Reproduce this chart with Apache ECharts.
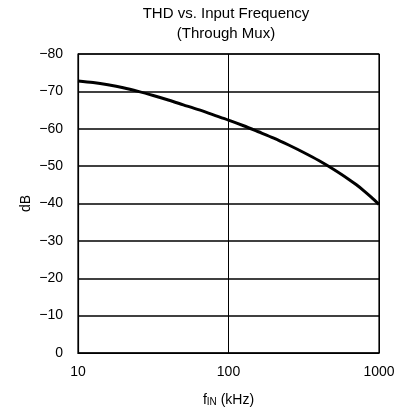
<!DOCTYPE html>
<html><head><meta charset="utf-8">
<script src="https://cdn.jsdelivr.net/npm/echarts@6/dist/echarts.min.js"></script>
<style>html,body{margin:0;padding:0;background:#fff}#c{width:400px;height:414px}</style>
</head><body><div id="c"></div>
<script>
const freqKHz = [10, 12.6, 15.8, 20, 25.1, 31.6, 39.8, 50.1, 63.1, 79.4, 100, 126, 158, 200, 251, 316, 398, 501, 631, 708, 794, 891, 1000];
const thdDB = [-72.8, -72.36, -71.75, -70.96, -70.0, -68.9, -67.7, -66.4, -65.1, -63.7, -62.3, -60.8, -59.2, -57.5, -55.65, -53.65, -51.5, -49.1, -46.45, -45.0, -43.4, -41.65, -39.75];
const titleLines = ['THD vs. Input Frequency', '(Through Mux)'];

const font = '"Liberation Sans", Arial, Helvetica, sans-serif';
const chart = echarts.init(document.getElementById('c'), null, {renderer: 'canvas'});
chart.setOption({
  animation: false,
  backgroundColor: '#fff',
  title: titleLines.map((t, i) => ({
    text: t,
    left: 221, top: -1 + i * 20, textAlign: 'center',
    textStyle: {fontFamily: font, fontSize: 15, fontWeight: 'normal', color: '#000', lineHeight: 20}
  })),
  grid: {left: 78, right: 21, top: 54, bottom: 61, show: true, borderColor: '#000', borderWidth: 1.2, backgroundColor: 'transparent'},
  xAxis: {
    type: 'log', logBase: 10, min: 10, max: 1000,
    axisLine: {show: true, lineStyle: {color: '#000', width: 1.2}},
    axisTick: {show: false},
    minorTick: {show: false},
    splitLine: {show: true, lineStyle: {color: '#000', width: 1}},
    axisLabel: {fontFamily: font, fontSize: 14, color: '#000', margin: 12, formatter: v => String(Math.round(v))},
    name: '{f|f}{s|IN}{f| (kHz)}',
    nameLocation: 'middle', nameGap: 40,
    nameTextStyle: {
      rich: {
        f: {fontFamily: font, fontSize: 14, color: '#000'},
        s: {fontFamily: font, fontSize: 10, color: '#000', verticalAlign: 'bottom'}
      }
    }
  },
  yAxis: {
    type: 'value', inverse: true, min: -80, max: 0, interval: 10,
    axisLine: {show: true, lineStyle: {color: '#000', width: 1.2}},
    axisTick: {show: false},
    splitLine: {show: true, lineStyle: {color: '#000', width: 1.5}},
    axisLabel: {
      fontFamily: font, fontSize: 14, color: '#000', margin: 15,
      formatter: v => String(v).replace('-', '\u2212')
    },
    name: 'dB', nameLocation: 'middle', nameGap: 45, nameRotate: 90, nameMoveOverlap: false,
    nameTextStyle: {fontFamily: font, fontSize: 14, color: '#000'}
  },
  series: [{
    type: 'line',
    data: freqKHz.map((f, i) => [f, thdDB[i]]),
    smooth: 0.3,
    showSymbol: false,
    lineStyle: {color: '#000', width: 3},
    clip: false
  }]
});
</script>
</body></html>
